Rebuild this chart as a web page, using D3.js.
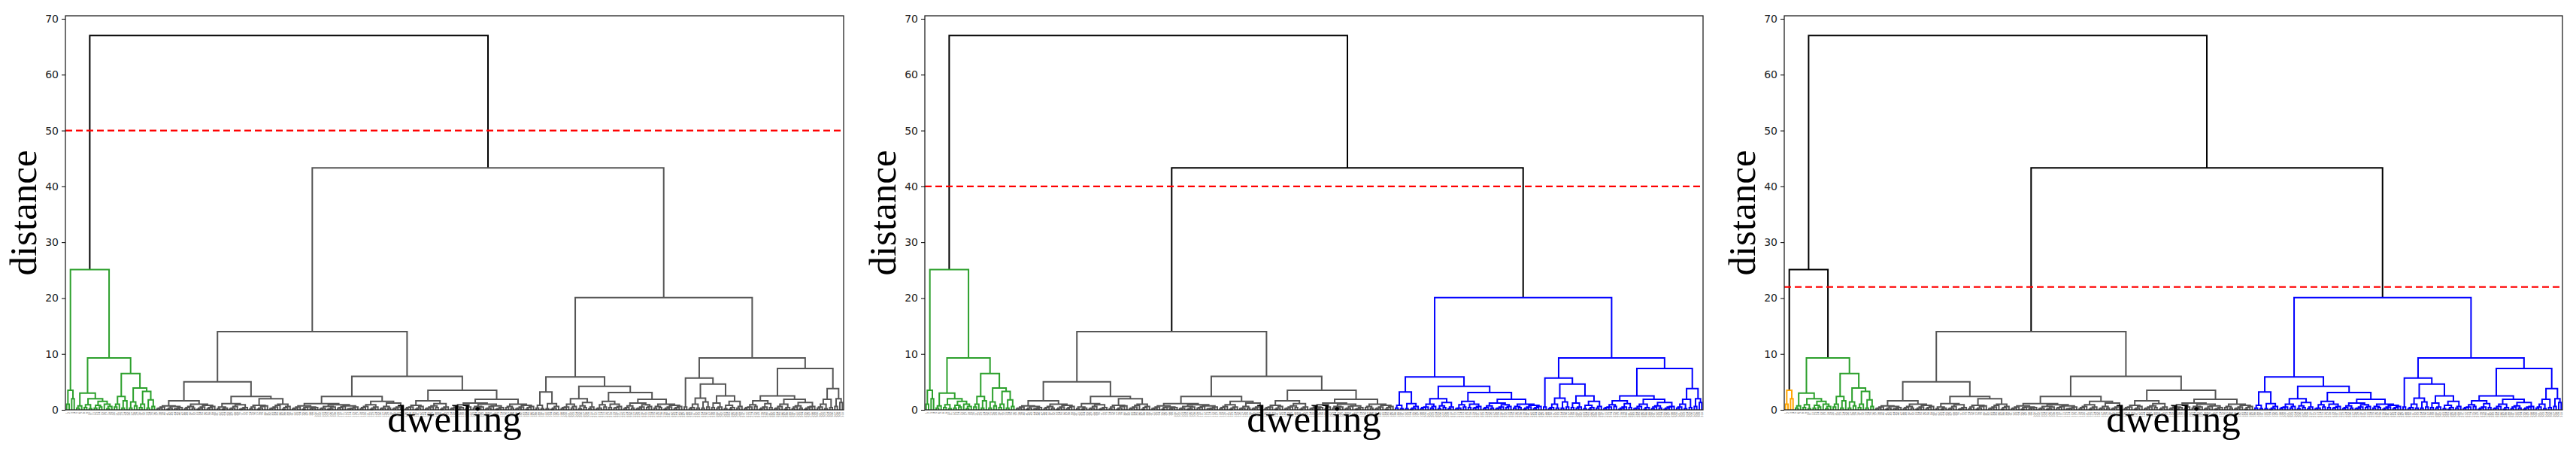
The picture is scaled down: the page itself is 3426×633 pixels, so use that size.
<!DOCTYPE html>
<html>
<head>
<meta charset="utf-8">
<script src="https://cdn.jsdelivr.net/npm/d3@7/dist/d3.min.js"></script>
<style>
  body { margin: 0; background: #fff; }
  svg { display: block; }
</style>
</head>
<body>
<div id="chart"></div>
<script>
// merge heights. node = [height, left, right], leaf = 0,
// ['t', h1, h2, ...] = small chained tuft (leaf joined one by one at those heights)
const orangeGroup = [3.5, [1.0, 0, 0], [2.0, 0, 0]];
const greenGroup = [9.3,
  [3.0, ['t', 0.3, 0.7],
    [2.0, [0.9, ['t', 0.4], ['t', 0.2]],
      [1.5, [0.8, ['t', 0.3], ['t', 0.5]], [1.0, 0, ['t', 0.2, 0.6]]]]],
  [6.5, [2.4, ['t', 0.5, 1.0], [1.6, ['t', 0.3], 0]],
    [3.9, [1.4, ['t', 0.3], [0.7, 0, 0]],
      [3.3, [1.0, ['t', 0.4], 0], [1.8, ['t', 0.3], [0.6, 0, 0]]]]]];

const grayGroup = [14.0,
  [5.0,
    [1.6,
      [0.7, ['t', 0.2, 0.3, 0.5], [0.6, ['t', 0.1, 0.3], ['t', 0.2, 0.2, 0.4]]],
      [1.0, [0.6, ['t', 0.2, 0.4], ['t', 0.3]], [0.8, ['t', 0.1, 0.3, 0.5], ['t', 0.2, 0.4, 0.6]]]],
    [2.4,
      [1.1, [0.5, ['t', 0.2], ['t', 0.1, 0.3]], [0.9, ['t', 0.2, 0.3, 0.6], ['t', 0.1, 0.2, 0.4]]],
      [2.0, [0.8, ['t', 0.2, 0.5], ['t', 0.1, 0.3, 0.6, 0.7]], [1.0, ['t', 0.2, 0.3, 0.5, 0.8], ['t', 0.1, 0.4, 0.6]]]]],
  [6.0,
    [2.4,
      [1.1,
        [0.7, ['t', 0.2, 0.3, 0.5], [0.5, ['t', 0.1, 0.4], ['t', 0.2, 0.3, 0.4]]],
        [0.9, [0.6, ['t', 0.2, 0.3], ['t', 0.1, 0.2, 0.5]], [0.7, ['t', 0.3, 0.4, 0.6], ['t', 0.2, 0.2, 0.3, 0.5]]]],
      [1.5, [0.9, ['t', 0.2, 0.4, 0.6], ['t', 0.1, 0.3, 0.5]], [1.2, [0.6, ['t', 0.2, 0.3], ['t', 0.3]], ['t', 0.2, 0.3, 0.5, 0.7]]]],
    [3.5,
      [1.6, [0.8, ['t', 0.2, 0.4, 0.5], ['t', 0.1, 0.3, 0.6]], [1.1, [0.7, ['t', 0.2, 0.3, 0.5], ['t', 0.4]], ['t', 0.1, 0.3, 0.5]]],
      [1.9,
        [1.2, [0.9, [0.5, ['t', 0.2, 0.3], ['t', 0.1, 0.4]], ['t', 0.2, 0.5]],
          [1.0, [0.6, ['t', 0.3], ['t', 0.2, 0.5]], [0.7, ['t', 0.2, 0.3, 0.6], ['t', 0.1, 0.2, 0.4]]]],
        [1.0, [0.6, ['t', 0.4], ['t', 0.3]], [0.8, ['t', 0.2, 0.3, 0.5], ['t', 0.1, 0.4, 0.6]]]]]]];

const blueGroup = [20.1,
  [5.9,
    [3.2, [0.8, ['t', 0.3], ['t', 0.2]], [1.1, ['t', 0.2], ['t', 0.1, 0.3, 0.6]]],
    [4.2,
      [2.0, [1.0, ['t', 0.2, 0.4, 0.5], ['t', 0.3, 0.6]], [1.3, [0.7, ['t', 0.2], ['t', 0.4]], ['t', 0.2, 0.5]]],
      [3.1,
        [1.5, [0.9, ['t', 0.2, 0.3], ['t', 0.5]], [1.0, ['t', 0.4], ['t', 0.3, 0.4, 0.6]]],
        [1.9,
          [1.2, [0.7, ['t', 0.2, 0.4], ['t', 0.3]], [0.9, ['t', 0.2, 0.3, 0.5], ['t', 0.4, 0.6]]],
          [1.0, [0.6, ['t', 0.3], ['t', 0.4]], [0.8, ['t', 0.1, 0.3, 0.5], ['t', 0.2, 0.4, 0.6]]]]]]],
  [9.3,
    [5.7, ['t', 0.5],
      [4.6,
        [2.1, [1.0, ['t', 0.2, 0.4], ['t', 0.3]], [1.4, ['t', 0.3], ['t', 0.5]]],
        [2.5, [1.2, ['t', 0.4], ['t', 0.3, 0.5]], [1.5, [0.8, ['t', 0.2], ['t', 0.1, 0.4]], ['t', 0.3, 0.6]]]]],
    [7.4,
      [2.5,
        [1.6, [0.9, ['t', 0.2, 0.4, 0.5], ['t', 0.6]], [1.1, ['t', 0.1, 0.3, 0.5], ['t', 0.4]]],
        [1.9, [1.0, ['t', 0.2, 0.3, 0.6], ['t', 0.1, 0.4]], [1.3, [0.7, ['t', 0.2, 0.5], ['t', 0.3]], ['t', 0.1, 0.3, 0.5, 0.6]]]],
      [3.8, [1.9, [1.0, ['t', 0.3, 0.5], ['t', 0.2]], ['t', 0.4]], [2.0, ['t', 0.6], ['t', 1.3]]]]]];

const treeSpec = [67.0, [25.1, orangeGroup, greenGroup], [43.3, grayGroup, blueGroup]];

// one panel per cut height
const thresholds = [50, 40, 22];
const clusterColors = [
  ['#2ca02c', '#555555'],
  ['#2ca02c', '#555555', '#0000ff'],
  ['#ffa500', '#2ca02c', '#555555', '#0000ff']
];
const aboveColor = '#000000';
const yTicks = [0, 10, 20, 30, 40, 50, 60, 70];

const W = 3426, H = 633;
const panelLefts = [87, 1230, 2373];
const panelWidth = 1035;
const plotTop = 21, plotBottom = 545;

// build the tree
let leafCount = 0;
function build(spec) {
  if (spec === 0) return { h: 0, leaf: leafCount++ };
  if (spec[0] === 't') {
    let node = { h: 0, leaf: leafCount++ };
    spec.slice(1).forEach(h => {
      node = { h: h, children: [node, { h: 0, leaf: leafCount++ }] };
    });
    return node;
  }
  return { h: spec[0], children: [build(spec[1]), build(spec[2])] };
}
const root = build(treeSpec);
const N = leafCount;

function place(node) {
  if (node.children) {
    node.children.forEach(place);
    node.x = (node.children[0].x + node.children[1].x) / 2;
  } else {
    node.x = 5 + 10 * node.leaf;
  }
}
place(root);

function allNodes(node, out) {
  out.push(node);
  if (node.children) node.children.forEach(c => allNodes(c, out));
  return out;
}
const nodes = allNodes(root, []);

const svg = d3.select('#chart').append('svg')
  .attr('width', W).attr('height', H);

const yScale = d3.scaleLinear().domain([0, 70.54]).range([plotBottom, plotTop]);

thresholds.forEach((thr, p) => {
  const left = panelLefts[p];
  const xScale = d3.scaleLinear().domain([0, N * 10]).range([left, left + panelWidth]);
  const g = svg.append('g');

  // colour clusters below the cut
  let ci = 0;
  function paint(node, color) {
    if (color) { node.color = color; }
    else if (node.h < thr) { color = clusterColors[p][ci++]; node.color = color; }
    else node.color = aboveColor;
    if (node.children) node.children.forEach(c => paint(c, color));
  }
  paint(root, null);

  const links = nodes.filter(d => d.children);
  g.selectAll('path.link').data(links).enter().append('path')
    .attr('class', 'link')
    .attr('fill', 'none')
    .attr('stroke', d => d.color)
    .attr('stroke-width', 2)
    .attr('d', d => {
      const [a, b] = d.children;
      return 'M' + xScale(a.x) + ',' + yScale(a.h) +
        'V' + yScale(d.h) + 'H' + xScale(b.x) + 'V' + yScale(b.h);
    });

  // cut line
  g.append('line')
    .attr('x1', left).attr('x2', left + panelWidth)
    .attr('y1', yScale(thr)).attr('y2', yScale(thr))
    .attr('stroke', '#ff0000').attr('stroke-width', 2.2)
    .attr('stroke-dasharray', '9,5');

  // frame
  g.append('rect')
    .attr('x', left).attr('y', plotTop)
    .attr('width', panelWidth).attr('height', plotBottom - plotTop)
    .attr('fill', 'none').attr('stroke', '#222').attr('stroke-width', 1.3);

  const yAxis = d3.axisLeft(yScale).tickValues(yTicks).tickSize(5).tickPadding(4);
  g.append('g').attr('transform', 'translate(' + left + ',0)').call(yAxis)
    .call(a => a.select('.domain').remove())
    .selectAll('text').attr('font-size', 14).attr('fill', '#222')
    .attr('font-family', 'DejaVu Sans');

  // leaf labels
  const leaves = nodes.filter(d => !d.children);
  g.selectAll('text.leaf').data(leaves).enter().append('text')
    .attr('class', 'leaf')
    .attr('transform', d => 'translate(' + (xScale(d.x) + 1.3) + ',' + (plotBottom + 3) + ') rotate(-90)')
    .attr('text-anchor', 'end')
    .attr('font-size', 3.6)
    .attr('font-family', 'DejaVu Sans')
    .attr('fill', '#555')
    .text(d => d.leaf + 1);

  g.append('text')
    .attr('x', left + panelWidth / 2).attr('y', 574)
    .attr('text-anchor', 'middle')
    .attr('font-family', 'Liberation Serif')
    .attr('font-size', 51)
    .text('dwelling');

  g.append('text')
    .attr('transform', 'translate(' + (left - 39) + ',' + ((plotTop + plotBottom) / 2) + ') rotate(-90)')
    .attr('text-anchor', 'middle')
    .attr('font-family', 'Liberation Serif')
    .attr('font-size', 51)
    .text('distance');
});
</script>
</body>
</html>
